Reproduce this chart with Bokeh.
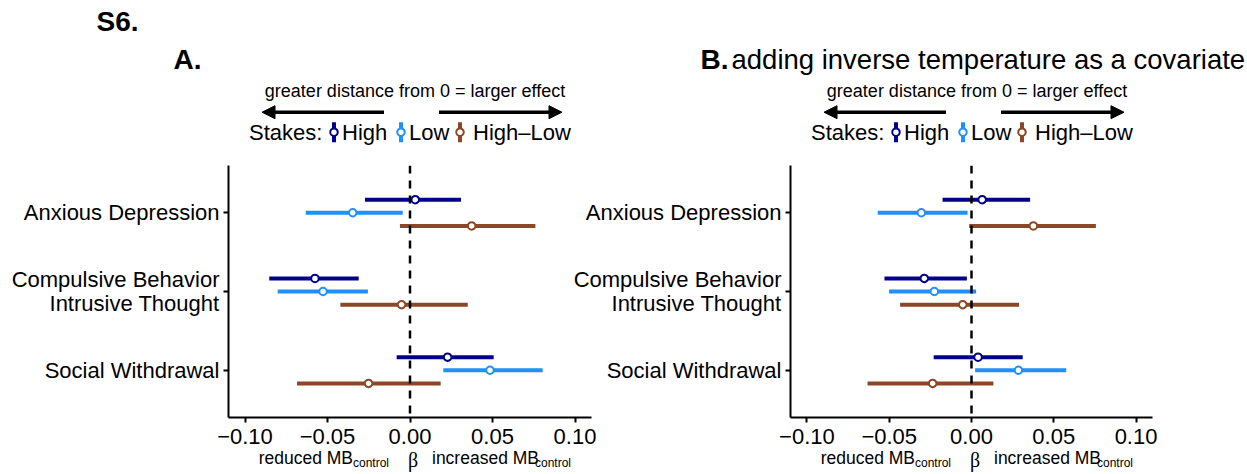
from bokeh.plotting import figure
from bokeh.layouts import column, row
from bokeh.models import (Range1d, FixedTicker, Span, Label, ColumnDataSource,
                          Arrow, NormalHead)
from bokeh.transform import dodge
from bokeh.embed import file_html
from bokeh.resources import INLINE

# ---------------- data ----------------
categories = ["Anxious Depression", "Compulsive Behavior\nIntrusive Thought", "Social Withdrawal"]
cat_pos = [3, 2, 1]
stakes = ["High", "Low", "High\u2013Low"]
colors = ["#00008B", "#1E90FF", "#8B4726"]
x_ticks = [-0.10, -0.05, 0.0, 0.05, 0.10]
x_tick_labels = ["\u22120.10", "\u22120.05", "0.00", "0.05", "0.10"]

# Panel A
high_est_A = [0.0032, -0.0576, 0.0228]
high_lo_A = [-0.0273, -0.0853, -0.0081]
high_hi_A = [0.0309, -0.0311, 0.0507]
low_est_A = [-0.0347, -0.0527, 0.0485]
low_lo_A = [-0.0632, -0.0802, 0.0202]
low_hi_A = [-0.0044, -0.0255, 0.0804]
hl_est_A = [0.0374, -0.0051, -0.0251]
hl_lo_A = [-0.0061, -0.0422, -0.0685]
hl_hi_A = [0.0760, 0.0350, 0.0186]

# Panel B (adding inverse temperature as a covariate)
high_est_B = [0.0065, -0.0287, 0.0040]
high_lo_B = [-0.0176, -0.0529, -0.0230]
high_hi_B = [0.0356, -0.0028, 0.0311]
low_est_B = [-0.0305, -0.0226, 0.0285]
low_lo_B = [-0.0570, -0.0501, 0.0022]
low_hi_B = [-0.0024, 0.0028, 0.0576]
hl_est_B = [0.0376, -0.0053, -0.0236]
hl_lo_B = [-0.0014, -0.0434, -0.0632]
hl_hi_B = [0.0756, 0.0289, 0.0133]

FONT = "Liberation Sans"
DODGE = [1/6, 0.0, -1/6]
BASE_FIX = 0.37  # baseline correction (fraction of font size)


def make_panel(series, width, min_left, min_right, margin=None):
    kw = {}
    if margin is not None:
        kw["margin"] = margin
    p = figure(width=width, height=300, output_backend="svg", toolbar_location=None,
               x_range=Range1d(-0.11, 0.11), y_range=Range1d(0.4, 3.6),
               min_border_left=min_left, min_border_right=min_right,
               min_border_top=15, min_border_bottom=33, **kw)
    p.outline_line_color = None
    p.grid.visible = False
    p.background_fill_color = None
    p.border_fill_color = None

    p.add_layout(Span(location=0, dimension="height", line_color="black",
                      line_width=2.5, line_dash="8 7"))

    for (est, lo, hi), c, d in zip(series, colors, DODGE):
        src = ColumnDataSource(dict(y=cat_pos, est=est, lo=lo, hi=hi))
        p.segment(x0="lo", x1="hi", y0=dodge("y", d), y1=dodge("y", d),
                  source=src, line_color=c, line_width=4)
        p.scatter(x="est", y=dodge("y", d), source=src, marker="circle", size=7.5,
                  fill_color="white", line_color=c, line_width=2)

    for ax in (p.xaxis, p.yaxis):
        ax.axis_line_width = 2
        ax.axis_line_color = "black"
        ax.major_tick_line_width = 2
        ax.major_tick_line_color = "black"
        ax.major_tick_in = 0
        ax.major_tick_out = 5
        ax.minor_tick_line_color = None
        ax.major_label_text_font = FONT
        ax.major_label_text_font_size = "22px"
        ax.major_label_text_color = "black"

    p.xaxis.ticker = FixedTicker(ticks=x_ticks)
    p.xaxis.major_label_overrides = {t: l for t, l in zip(x_ticks, x_tick_labels)}
    p.xaxis.major_label_standoff = 6

    p.yaxis.ticker = FixedTicker(ticks=cat_pos)
    p.yaxis.major_label_overrides = {pos: name for pos, name in zip(cat_pos, categories)}
    p.yaxis.major_label_standoff = 4
    p.yaxis.major_label_text_line_height = 0.97
    return p


pA = make_panel([(high_est_A, high_lo_A, high_hi_A), (low_est_A, low_lo_A, low_hi_A),
                 (hl_est_A, hl_lo_A, hl_hi_A)], width=600, min_left=228, min_right=9)
pB = make_panel([(high_est_B, high_lo_B, high_hi_B), (low_est_B, low_lo_B, low_hi_B),
                 (hl_est_B, hl_lo_B, hl_hi_B)], width=687, min_left=230, min_right=95,
                margin=(0, 0, 0, -40))


def pixel_fig(h, margin=None):
    kw = {}
    if margin is not None:
        kw["margin"] = margin
    f = figure(width=1247, height=h, output_backend="svg", toolbar_location=None,
               x_range=Range1d(0, 1247), y_range=Range1d(h, 0),
               min_border=0, min_border_left=0, min_border_right=0,
               min_border_top=0, min_border_bottom=0, **kw)
    f.axis.visible = False
    f.grid.visible = False
    f.outline_line_color = None
    f.background_fill_color = None
    f.border_fill_color = None
    return f


def add_label(f, x, y, text, size, bold=False, align="left", font=FONT):
    f.add_layout(Label(x=x, y=y - BASE_FIX * size, text=text, text_align=align,
                       text_baseline="alphabetic",
                       text_font=font, text_font_size=f"{size}px", text_color="black",
                       text_font_style="bold" if bold else "normal"))


# ---------------- header ----------------
hdr = pixel_fig(150)
add_label(hdr, 96, 31, "S6.", 28, bold=True)
add_label(hdr, 173, 69, "A.", 28, bold=True)
add_label(hdr, 700, 69, "B.", 28, bold=True)
add_label(hdr, 731, 69, "adding inverse temperature as a covariate", 27.5)

ZEROS = (409.5, 971.5)  # pixel position of beta = 0 in each panel
for z in ZEROS:
    add_label(hdr, z + 5, 97.5, "greater distance from 0 = larger effect", 18, align="center")
    hdr.add_layout(Arrow(end=NormalHead(size=13, fill_color="black", line_color="black"),
                         x_start=z - 26, y_start=111.7, x_end=z - 148, y_end=111.7,
                         line_width=3.5, line_color="black"))
    hdr.add_layout(Arrow(end=NormalHead(size=13, fill_color="black", line_color="black"),
                         x_start=z + 29, y_start=111.7, x_end=z + 152, y_end=111.7,
                         line_width=3.5, line_color="black"))
    add_label(hdr, z - 161, 140, "Stakes:", 22)
    key_x = [z - 76, z - 9, z + 50]
    text_x = [z - 68, z - 1, z + 63]
    for kx, tx, c, s in zip(key_x, text_x, colors, stakes):
        hdr.segment(x0=[kx], x1=[kx], y0=[121.7], y1=[141.7], line_color=c, line_width=4)
        hdr.scatter(x=[kx], y=[131.7], marker="circle", size=7.5, fill_color="white",
                    line_color=c, line_width=2)
        add_label(hdr, tx, 140, s, 22)

# ---------------- footer: x-axis title (overlaps panel bottoms, transparent) ----------------
FH = 30
ftr = pixel_fig(FH, margin=(-6, 0, 0, 0))
top = 444  # page y of the footer's top edge
for z in ZEROS:
    add_label(ftr, z - 57, 464.3 - top, "reduced MB", 17.5, align="right")
    add_label(ftr, z - 57, 466.7 - top, "control", 12)
    add_label(ftr, z + 3, 467 - top, "\u03b2", 20, align="center", font="Liberation Serif")
    add_label(ftr, z + 22, 464.3 - top, "increased MB", 17.5)
    add_label(ftr, z + 125, 466.7 - top, "control", 12)

layout = column(hdr, row(pA, pB), ftr)
open("out.html", "w").write(file_html(layout, INLINE))
